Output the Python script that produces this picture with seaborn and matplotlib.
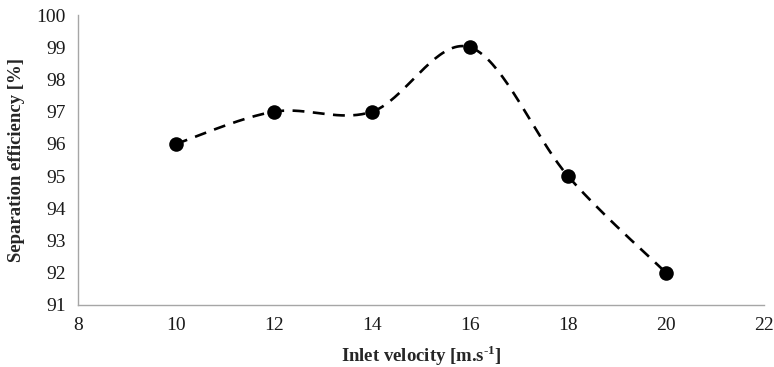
import numpy as np
import pandas as pd
import matplotlib
matplotlib.use("Agg")
import matplotlib.pyplot as plt
import seaborn as sns

velocity = [10, 12, 14, 16, 18, 20]
efficiency = [96, 97, 97, 99, 95, 92]
x_ticks = [8, 10, 12, 14, 16, 18, 20, 22]
y_ticks = [91, 92, 93, 94, 95, 96, 97, 98, 99, 100]

sns.set_theme(style="white")
plt.rcParams['font.family'] = ['Liberation Serif', 'DejaVu Serif']
plt.rcParams['mathtext.fontset'] = 'custom'
plt.rcParams['mathtext.rm'] = 'Liberation Serif:bold'
plt.rcParams['mathtext.bf'] = 'Liberation Serif:bold'

# Excel-style smoothed line (Catmull-Rom Bezier through the data points)
def smooth(xs, ys, n=40):
    P = np.column_stack([xs, ys]).astype(float)
    Pp = np.vstack([P[0], P, P[-1]])
    out = []
    for i in range(len(P) - 1):
        p0, p1, p2, p3 = Pp[i], Pp[i + 1], Pp[i + 2], Pp[i + 3]
        c1 = p1 + (p2 - p0) / 6.0
        c2 = p2 - (p3 - p1) / 6.0
        t = np.linspace(0, 1, n)[:, None]
        seg = ((1 - t) ** 3) * p1 + 3 * ((1 - t) ** 2) * t * c1 + 3 * (1 - t) * t ** 2 * c2 + t ** 3 * p2
        out.append(seg if i == 0 else seg[1:])
    return np.vstack(out)

curve = smooth(velocity, efficiency)
curve_df = pd.DataFrame({"x": curve[:, 0], "y": curve[:, 1]})
pts_df = pd.DataFrame({"x": velocity, "y": efficiency})

fig = plt.figure(figsize=(7.74, 3.67), dpi=100)
ax = fig.add_axes([0.1008, 0.169, 0.8863, 0.79])

sns.lineplot(data=curve_df, x="x", y="y", ax=ax, color="black", linewidth=1.9,
             sort=False, estimator=None)
ax.lines[0].set_dashes([4.5, 3.2])
sns.scatterplot(data=pts_df, x="x", y="y", ax=ax, color="black", s=110,
                edgecolor="black", linewidth=0, zorder=3)

ax.set_xlim(8, 22)
ax.set_ylim(91, 100)
ax.set_xticks(x_ticks)
ax.set_yticks(y_ticks)
ax.set_xticklabels([str(v) for v in x_ticks], fontsize=14)
ax.set_yticklabels([str(v) for v in y_ticks], fontsize=14)

for side in ["top", "right"]:
    ax.spines[side].set_visible(False)
for side in ["left", "bottom"]:
    ax.spines[side].set_color("#a6a6a6")
    ax.spines[side].set_linewidth(1.0)
ax.tick_params(axis="both", which="both", direction="out", length=5, width=1.0,
               color="#a6a6a6", labelcolor="#1a1a1a", pad=4)

ax.set_xlabel(r"Inlet velocity [m.s$^{\text{-}1}$]", fontsize=13.5, fontweight="bold", labelpad=6)
ax.set_ylabel("Separation efficiency [%]", fontsize=13.5, fontweight="bold", labelpad=8)
ax.grid(False)

fig.savefig("out.png", dpi=100)
